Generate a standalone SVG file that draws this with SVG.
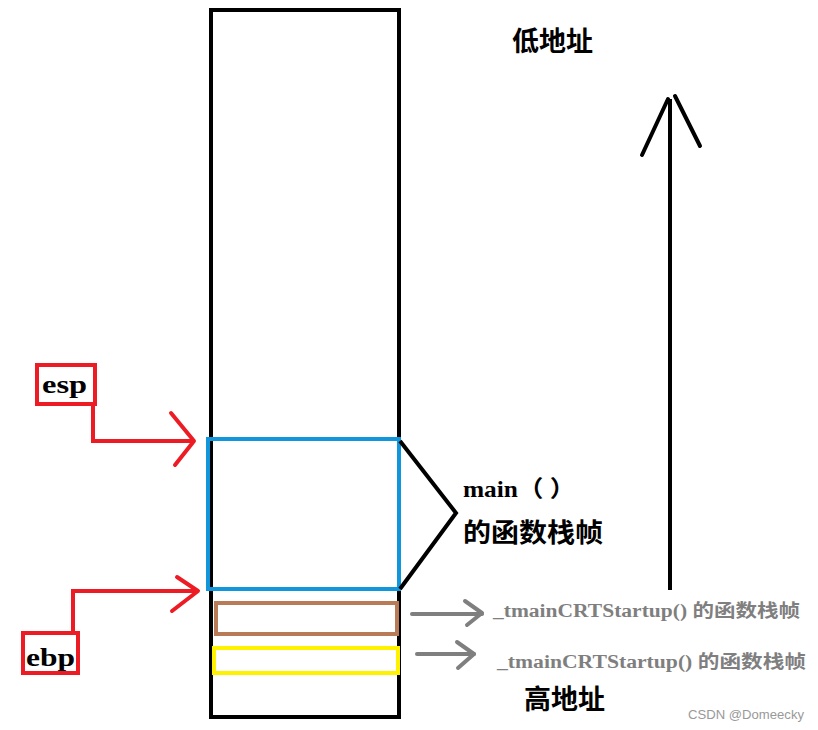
<svg xmlns="http://www.w3.org/2000/svg" width="818" height="730" viewBox="0 0 818 730">
<defs>
<style>
.ln{fill:none;stroke-linecap:round;stroke-linejoin:round}
.red{stroke:#ed1c24;stroke-width:4;fill:none}
.gray{stroke:#7f7f7f;stroke-width:4;fill:none;stroke-linecap:round;stroke-linejoin:round}
.lbl{font-family:"Liberation Serif","Noto Sans CJK SC",serif;font-weight:bold;fill:#000}
.cjk{font-family:"Noto Sans CJK SC",sans-serif;font-weight:bold;fill:#000}
.gtxt{font-family:"Liberation Serif","Noto Sans CJK SC",serif;font-weight:bold;fill:#7f7f7f;font-size:18px}
</style>
</defs>
<rect width="818" height="730" fill="#fff"/>
<g id="stack"><rect x="211" y="10" width="188" height="707" fill="none" stroke="#000" stroke-width="4"/></g>
<g id="main-frame"><rect x="208" y="439" width="191" height="150" fill="none" stroke="#1296db" stroke-width="4"/></g>
<g id="crt-frame-1"><rect x="216" y="603" width="181" height="31" fill="none" stroke="#b97a57" stroke-width="4"/></g>
<g id="crt-frame-2"><rect x="214" y="648" width="184" height="25" fill="none" stroke="#fff200" stroke-width="4"/></g>
<g id="esp"><rect x="37" y="365" width="58" height="39" class="red"/><text x="42" y="393" class="lbl" font-size="25" textLength="45" lengthAdjust="spacingAndGlyphs">esp</text></g>
<g id="ebp"><rect x="23" y="633" width="55" height="40" class="red"/><text x="26" y="666" class="lbl" font-size="25" textLength="49" lengthAdjust="spacingAndGlyphs">ebp</text></g>
<g id="main-label"><text x="463" y="497" class="lbl" font-size="23" textLength="112" lengthAdjust="spacingAndGlyphs">main（ ）</text><text x="463" y="542" class="cjk" font-size="26" textLength="140" lengthAdjust="spacingAndGlyphs">的函数栈帧</text></g>
<g id="crt-label-1"><text x="493" y="617" class="gtxt" textLength="307" lengthAdjust="spacingAndGlyphs">_tmainCRTStartup() 的函数栈帧</text></g>
<g id="crt-label-2"><text x="497" y="668" class="gtxt" textLength="309" lengthAdjust="spacingAndGlyphs">_tmainCRTStartup() 的函数栈帧</text></g>
<g id="low-addr"><text x="512" y="51" class="cjk" font-size="27">低地址</text></g>
<g id="high-addr"><text x="524" y="709" class="cjk" font-size="27">高地址</text></g>
<g id="connectors">
<polyline points="93,404 93,441 192,441" class="red"/>
<polyline points="171,413 194,441 175,465" class="red ln"/>
<polyline points="73,632 73,591 198,591" class="red"/>
<polyline points="177,577 198,591 172,611" class="red ln"/>
<polyline points="400,441 456,513 400,589" fill="none" stroke="#000" stroke-width="4" stroke-linejoin="miter"/>
<line x1="670" y1="590" x2="670" y2="99" stroke="#000" stroke-width="4"/>
<line x1="642" y1="155" x2="668" y2="99" stroke="#000" stroke-width="4" stroke-linecap="round"/>
<line x1="675" y1="96" x2="700" y2="146" stroke="#000" stroke-width="4" stroke-linecap="round"/>
<line x1="412" y1="614" x2="482" y2="614" class="gray"/>
<polyline points="465,601 482,613 467,625" class="gray"/>
<line x1="417" y1="654" x2="474" y2="654" class="gray"/>
<polyline points="457,642 474,654 458,668" class="gray"/>
</g>
<text x="688" y="719" font-family="Liberation Sans,sans-serif" font-size="13" fill="#999" textLength="116" lengthAdjust="spacingAndGlyphs">CSDN @Domeecky</text>
</svg>
